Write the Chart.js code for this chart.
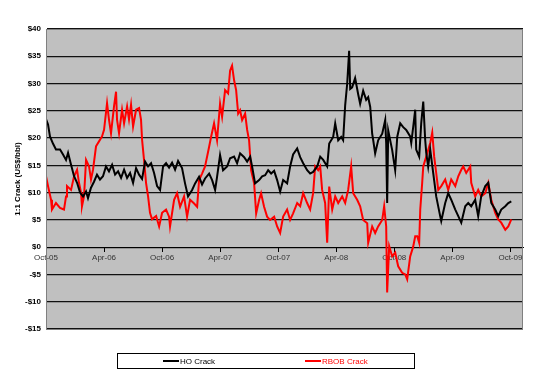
<!DOCTYPE html>
<html>
<head>
<meta charset="utf-8">
<script src="https://cdn.jsdelivr.net/npm/chart.js@4.4.0/dist/chart.umd.min.js"></script>
<style>
  html, body { margin: 0; padding: 0; background: #fff; }
  #wrap { width: 550px; height: 376px; }
</style>
</head>
<body>
<div id="wrap"><canvas id="crackChart" width="550" height="376"></canvas></div>
<script>
// months counted from 1 Oct 2005
var hoMonths = [0,0.21,0.41,0.72,1.03,1.45,1.76,2.07,2.28,2.59,2.90,3.21,3.52,3.83,4.14,4.34,4.65,4.96,5.27,5.58,5.89,6.20,6.51,6.83,7.14,7.45,7.76,8.07,8.38,8.69,9.00,9.31,9.62,9.93,10.24,10.55,10.86,11.17,11.48,11.79,12.10,12.41,12.72,13.03,13.34,13.65,14.06,14.37,14.68,15.10,15.41,15.82,16.13,16.44,16.86,17.17,17.48,17.68,17.99,18.30,18.72,19.03,19.44,19.75,20.06,20.48,20.79,21.10,21.30,21.61,22.03,22.34,22.65,22.96,23.27,23.58,23.89,24.20,24.51,24.92,25.23,25.54,25.96,26.27,26.58,26.99,27.30,27.61,28.03,28.34,28.65,29.06,29.27,29.68,29.89,30.20,30.51,30.71,30.92,31.13,31.33,31.44,31.64,31.95,32.27,32.47,32.78,33.09,33.30,33.51,33.71,33.82,34.02,34.33,34.75,35.06,35.16,35.26,35.37,35.78,36.09,36.30,36.61,36.92,37.23,37.64,37.75,37.95,38.16,38.26,38.57,38.78,38.99,39.19,39.30,39.50,39.71,40.02,40.33,40.74,40.85,41.26,41.57,41.88,42.30,42.61,42.92,43.33,43.64,43.95,44.36,44.67,44.98,45.40,45.71,46.02,46.43,46.74,47.05,47.47,47.78,48.09];
var hoCrack = [23.5,22.5,20.3,19,17.9,17.9,17,16,17.3,15.1,13,11.8,10,9.3,10.2,9,10.9,12,13.3,12.4,13,14.8,13.9,15.1,13.3,13.9,12.7,14.2,12.7,13.6,11.8,14.5,13.3,12.5,15.7,14.8,15.4,13.6,11.2,10.5,14.8,15.4,14.6,15.5,14.2,15.8,14.5,11.7,9.3,10.5,11.7,12.9,11.5,12.6,13.5,12.3,10.5,12.9,16.9,14.1,14.8,16.3,16.6,15.4,17.2,16.5,15.7,16.6,14.8,11.7,12.3,13,13.2,14.1,13.5,14,12.3,10.2,12.3,11.7,14.8,17,18.1,16.5,15.4,14.1,13.5,13.8,14.8,16.6,16,14.8,19,20.2,22.7,19.6,20.2,19.6,26,30,36,29,29.3,31,28,26.3,28.7,27,27.5,25.7,20.8,19.6,17.2,19.6,20.8,23.3,19,8.1,21.4,17.8,14.1,20.2,22.7,22,21.5,20.3,19.1,22,25.2,17.9,16.6,22.7,26.7,19.7,17.3,14.8,17.9,13.6,9.3,5.7,4.8,8.1,9.9,8.7,6.9,5.7,4.5,7.5,8.1,7.5,8.7,5.7,9.3,11.2,11.8,8.1,6.9,5.7,6.9,7.5,8.1,8.4];

var rbobMonths = [0,0.21,0.52,0.62,1.03,1.45,1.86,2.07,2.17,2.59,2.90,3.21,3.41,3.62,3.72,3.93,4.14,4.45,4.65,4.86,5.17,5.48,5.79,6.00,6.31,6.51,6.72,7.03,7.24,7.34,7.55,7.86,8.07,8.38,8.58,8.79,9.00,9.31,9.62,9.82,9.93,10.13,10.34,10.55,10.75,10.96,11.38,11.69,12.00,12.41,12.72,12.82,13.24,13.55,13.86,14.27,14.58,14.89,15.31,15.62,15.82,16.13,16.44,16.86,17.06,17.37,17.68,17.99,18.20,18.51,18.82,19.03,19.23,19.44,19.65,19.86,20.06,20.27,20.58,20.79,20.99,21.20,21.51,21.72,22.03,22.23,22.54,22.85,23.16,23.58,23.89,24.20,24.51,24.92,25.23,25.54,25.96,26.27,26.58,26.99,27.30,27.61,27.82,28.13,28.34,28.54,28.85,29.06,29.27,29.58,29.89,30.20,30.61,30.92,31.23,31.54,31.75,32.16,32.47,32.78,33.20,33.30,33.71,34.02,34.33,34.75,34.95,35.16,35.26,35.47,35.78,36.09,36.40,36.81,37.13,37.33,37.64,37.95,38.16,38.37,38.57,38.68,38.88,38.99,39.30,39.71,39.92,40.12,40.33,40.54,40.85,41.26,41.57,41.88,42.30,42.61,42.92,43.12,43.43,43.85,43.95,44.36,44.67,44.98,45.40,45.71,46.02,46.43,46.74,47.05,47.47,47.78,48.09];
var rbobCrack = [13,11.2,8.7,6.9,8.1,7.2,6.9,9.3,11.2,10.5,13,14.2,11.8,10,7.5,9.3,16,14.8,12.4,14.2,18.5,19.4,20.3,21.5,26.4,23.4,20.9,25.8,28.5,23.4,20.9,25.2,22.7,25.8,23.4,26.1,22.1,25.2,25.5,23.4,19.7,16,11.8,9.3,6.3,5.1,5.7,3.8,6.3,6.9,5.6,3.8,8.7,9.9,7.4,9.3,5.6,8.7,8,7.4,12.3,13.5,14.8,18.4,20.2,22.7,19.6,26.3,23.9,28.8,28.2,32.4,33.3,30.6,28.8,24.5,25.1,23.3,24.5,21.5,19.6,14.1,11.7,6.2,8.7,9.9,7.4,5.6,5,5.6,3.8,2.6,5.6,6.9,5,6.2,8.1,7.5,9.9,8.1,6.9,9.9,14.8,14.1,14.8,10.5,8.1,0.8,11.1,6.9,9.3,8.1,9.3,8.1,10.5,14.8,9.9,8.7,7.5,5,4.4,0.8,3.8,2.6,3.8,5,7.5,3.8,-8.3,0.2,-1.7,-1,-3.5,-4.7,-5,-5.9,-1.7,0.1,2,2,0.8,6.9,11.8,14.8,16.6,19.1,21,16.6,13.6,10.5,11.2,12.4,10.5,12.4,11.2,13,14.2,14.8,13.6,14.8,11.8,9.3,10.5,9.3,9.9,11.8,8.7,6.3,5.1,4.5,3.2,3.8,5.1];

var tickMonths = [0,6,12,18,24,30,36,42,48];
var tickLabels = ['Oct-05','Apr-06','Oct-06','Apr-07','Oct-07','Apr-08','Oct-08','Apr-09','Oct-09'];
var seriesNames = ['HO Crack','RBOB Crack'];
var seriesColors = ['#000000','#ff0000'];

function toPoints(xs, ys) {
    return xs.map(function (x, i) { return {x: x, y: ys[i]}; });
}

var FONT = "'Liberation Sans', Arial, sans-serif";

// grey plot area with a thin border
const plotBack = {
    id: 'plotBack',
    beforeDraw(chart) {
        const a = chart.chartArea, ctx = chart.ctx;
        ctx.save();
        ctx.fillStyle = '#c0c0c0';
        ctx.fillRect(a.left, a.top, a.right - a.left, a.bottom - a.top);
        ctx.restore();
    },
    afterDraw(chart) {
        const a = chart.chartArea, ctx = chart.ctx;
        ctx.save();
        ctx.strokeStyle = '#808080';
        ctx.lineWidth = 1;
        ctx.strokeRect(a.left + 0.5, a.top + 0.5, a.right - a.left - 1, a.bottom - a.top);
        ctx.restore();
    }
};

// boxed legend under the chart, like the Excel one
const boxLegend = {
    id: 'boxLegend',
    afterDraw(chart) {
        const ctx = chart.ctx;
        ctx.save();
        ctx.fillStyle = '#fff';
        ctx.fillRect(117, 353, 297, 15);
        ctx.strokeStyle = '#000';
        ctx.lineWidth = 1;
        ctx.strokeRect(117.5, 353.5, 297, 15);
        ctx.font = '8px ' + FONT;
        ctx.textBaseline = 'middle';
        var starts = [163, 305];
        chart.data.datasets.forEach(function (ds, i) {
            ctx.strokeStyle = ds.borderColor;
            ctx.lineWidth = 2;
            ctx.beginPath();
            ctx.moveTo(starts[i], 361);
            ctx.lineTo(starts[i] + 16, 361);
            ctx.stroke();
            ctx.fillStyle = ds.borderColor;
            ctx.fillText(ds.label, starts[i] + 17, 361.5);
        });
        ctx.restore();
    }
};

new Chart('crackChart', {
    type: 'line',
    data: {
        datasets: [{
            label: seriesNames[0],
            data: toPoints(hoMonths, hoCrack),
            borderColor: seriesColors[0],
            borderWidth: 2,
            pointRadius: 0,
            tension: 0
        }, {
            label: seriesNames[1],
            data: toPoints(rbobMonths, rbobCrack),
            borderColor: seriesColors[1],
            borderWidth: 2,
            pointRadius: 0,
            tension: 0
        }]
    },
    options: {
        responsive: false,
        animation: false,
        parsing: false,
        layout: { padding: { top: 29, right: 27, bottom: 47, left: 13 } },
        plugins: {
            legend: { display: false },
            tooltip: { enabled: false }
        },
        scales: {
            x: {
                type: 'linear',
                position: { y: 0 },
                min: 0,
                max: 49.3,
                afterBuildTicks: function (scale) {
                    scale.ticks = tickMonths.map(function (v) { return {value: v}; });
                },
                ticks: {
                    autoSkip: false,
                    maxRotation: 0,
                    padding: 2,
                    color: '#333',
                    font: { family: FONT, size: 8 },
                    callback: function (v) {
                        var i = tickMonths.indexOf(v);
                        return i >= 0 ? tickLabels[i] : '';
                    }
                },
                grid: { drawOnChartArea: false, drawTicks: true, tickLength: 4, color: '#000' },
                border: { color: '#000', width: 1 }
            },
            y: {
                min: -15,
                max: 40,
                afterFit: function (scale) { scale.width = 33; },
                ticks: {
                    stepSize: 5,
                    padding: 5,
                    color: '#000',
                    font: { family: FONT, size: 8, weight: 'bold' },
                    callback: function (v) { return (v < 0 ? '-$' : '$') + Math.abs(v); }
                },
                grid: { color: '#111', lineWidth: 1.2, drawTicks: false },
                border: { color: '#000', width: 1 },
                title: {
                    display: true,
                    text: '1:1 Crack (US$/bbl)',
                    color: '#000',
                    padding: 0,
                    font: { family: FONT, size: 8, weight: 'bold' }
                }
            }
        }
    },
    plugins: [plotBack, boxLegend]
});
</script>
</body>
</html>
